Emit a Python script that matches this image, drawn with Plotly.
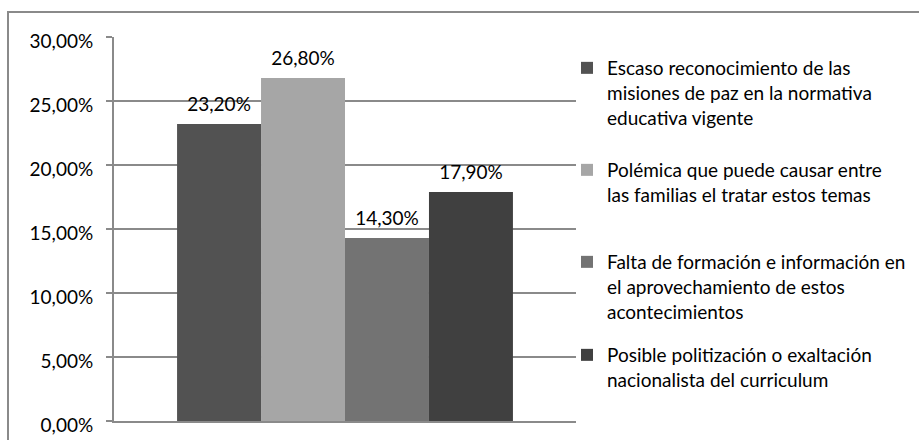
import plotly.graph_objects as go

categories = ["Dificultades"]
series_names = [
    "Escaso reconocimiento de las<br>misiones de paz en la normativa<br>educativa vigente",
    "Polémica que puede causar entre<br>las familias el tratar estos temas",
    "Falta de formación e información en<br>el aprovechamiento de estos<br>acontecimientos",
    "Posible politización o exaltación<br>nacionalista del curriculum",
]
values = [0.232, 0.268, 0.143, 0.179]
colors = ["#525252", "#a6a6a6", "#737373", "#404040"]
legend_tops_px = [49, 151, 243, 336]

W, H = 919, 440
ML, MR, MT, MB = 114, 343, 37, 19
FONT = "Lato"
FS = 19
GRID = "#8a8a8a"

fig = go.Figure()
legend_ids = ["legend", "legend2", "legend3", "legend4"]
for name, v, c, lg in zip(series_names, values, colors, legend_ids):
    fig.add_trace(go.Bar(
        x=categories, y=[v], name=name, marker=dict(color=c, line=dict(width=0)),
        legend=lg, hoverinfo="skip",
    ))
for name, v in zip(series_names, values):
    fig.add_trace(go.Scatter(
        x=categories, y=[v], mode="markers+text", texttemplate="%{y:.2%}",
        textposition="top center", textfont=dict(family=FONT, size=FS, color="#000000"),
        marker=dict(size=12, opacity=0), showlegend=False, hoverinfo="skip",
        cliponaxis=False,
    ))

pw = W - ML - MR
ph = H - MT - MB
def px_x(p):
    return (p - ML) / pw
def px_y(p):
    return (H - MB - p) / ph

layout_legends = {}
for lg, top in zip(legend_ids, legend_tops_px):
    layout_legends[lg] = dict(
        xref="container", yref="container", x=567 / W, y=1 - top / H,
        xanchor="left", yanchor="top", valign="top",
        font=dict(family=FONT, size=FS, color="#000000"),
        bgcolor="rgba(0,0,0,0)", borderwidth=0,
    )

fig.update_layout(
    width=W, height=H,
    margin=dict(l=ML, r=MR, t=MT, b=MB, pad=0, autoexpand=False),
    paper_bgcolor="white", plot_bgcolor="white",
    barmode="group", bargap=0.273, bargroupgap=0, scattermode="group",
    separators=",.",
    font=dict(family=FONT, size=FS, color="#000000"),
    showlegend=True,
    xaxis=dict(showticklabels=False, ticks="", showgrid=False, showline=True,
               linecolor=GRID, linewidth=2, zeroline=False, fixedrange=True,
               automargin=False),
    yaxis=dict(range=[0, 0.30], dtick=0.05, tickformat=".2%", showgrid=True,
               gridcolor=GRID, gridwidth=1.5, showline=True, linecolor=GRID,
               linewidth=2, ticks="outside", ticklen=6, tickcolor=GRID, tickwidth=1.5,
               ticklabelstandoff=9, ticklabelshift=4, zeroline=False, automargin=False,
               tickfont=dict(family=FONT, size=FS, color="#000000")),
    shapes=[dict(type="rect", xref="paper", yref="paper",
                 x0=px_x(8), x1=px_x(940), y0=px_y(460), y1=px_y(12),
                 line=dict(color=GRID, width=2), fillcolor="rgba(0,0,0,0)", layer="above")],
    **layout_legends,
)

fig.write_html("out.html", config={"displayModeBar": False},
               post_script="document.body.style.margin='0px';")
